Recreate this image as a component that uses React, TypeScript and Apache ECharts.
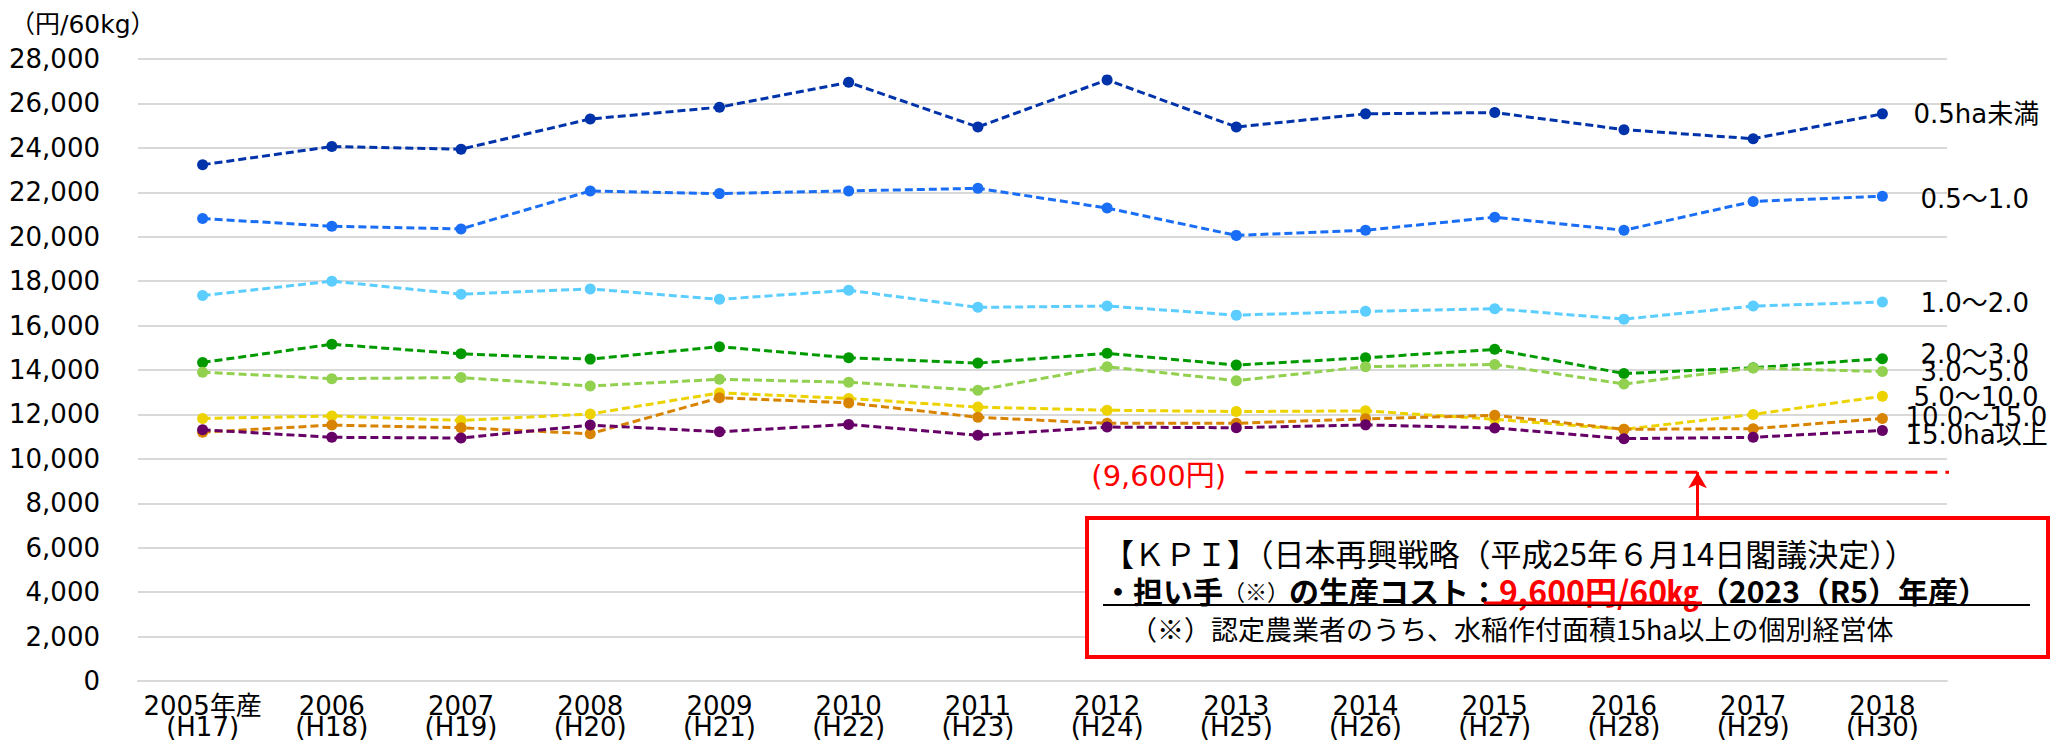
import React, { useEffect, useRef } from "react";
import * as echarts from "echarts";

const categories = [
  "2005年産\n(H17)", "2006\n(H18)", "2007\n(H19)", "2008\n(H20)", "2009\n(H21)",
  "2010\n(H22)", "2011\n(H23)", "2012\n(H24)", "2013\n(H25)", "2014\n(H26)",
  "2015\n(H27)", "2016\n(H28)", "2017\n(H29)", "2018\n(H30)",
];

const seriesNames = [
  "0.5ha未満", "0.5～1.0", "1.0～2.0", "2.0～3.0",
  "3.0～5.0", "5.0～10.0", "10.0～15.0", "15.0ha以上",
];

const under05 = [23240, 24060, 23940, 25300, 25830, 26950, 24940, 27060, 24940, 25530, 25590, 24820, 24410, 25530];
const from05to10 = [20820, 20470, 20350, 22060, 21940, 22060, 22180, 21290, 20060, 20290, 20880, 20290, 21590, 21820];
const from10to20 = [17350, 18000, 17410, 17650, 17180, 17590, 16820, 16880, 16470, 16640, 16760, 16290, 16880, 17060];
const from20to30 = [14340, 15160, 14730, 14490, 15050, 14550, 14310, 14750, 14220, 14550, 14930, 13840, 14100, 14510];
const from30to50 = [13900, 13610, 13660, 13280, 13580, 13450, 13090, 14150, 13520, 14150, 14250, 13370, 14090, 13930];
const from50to100 = [11820, 11930, 11730, 12020, 12970, 12720, 12330, 12190, 12130, 12160, 11780, 11330, 12000, 12820];
const from100to150 = [11200, 11520, 11400, 11130, 12750, 12520, 11870, 11600, 11600, 11800, 11960, 11330, 11360, 11820];
const over150 = [11310, 10970, 10940, 11520, 11220, 11550, 11060, 11430, 11400, 11530, 11390, 10910, 10970, 11280];

const seriesValues = [under05, from05to10, from10to20, from20to30, from30to50, from50to100, from100to150, over150];

// KPI target line (drawn position) and its labels
const kpiLineY = 9400;
const kpiLineX = [8.07, 13.55];
const kpiArrowX = 11.57;
const kpiArrowFromY = 7380;
const yTicks = { min: 0, max: 28000, interval: 2000 };

const colors = ["#0033aa", "#1a6ef5", "#5bcdff", "#009a00", "#92d050", "#ecd300", "#d88400", "#660066"];
const labelDistance = [31, 38, 38, 38, 38, 31, 23, 23];
const labelDy = [0, 3, 1, -5, 0, 1, -1, 5];

const FONT = "'DejaVu Sans', 'Noto Sans CJK JP', sans-serif";
const CJK = "'Noto Sans CJK JP', 'DejaVu Sans', sans-serif";

export default function App() {
  const ref = useRef<HTMLDivElement>(null);
  useEffect(() => {
    if (!ref.current) return;
    const chart = echarts.init(ref.current, undefined, { renderer: "svg" });
    const lineSeries = seriesNames.map((name, i) => ({
      name,
      type: "line",
      data: seriesValues[i],
      symbol: "circle",
      symbolSize: 11,
      z: 3 + i,
      itemStyle: { color: colors[i] },
      lineStyle: { color: colors[i], width: 3, type: [8, 4] },
      endLabel: {
        show: true,
        formatter: name,
        distance: labelDistance[i],
        offset: [0, labelDy[i]],
        color: "#000",
        fontSize: 26,
        fontFamily: FONT,
      },
    }));
    const option: any = {
      animation: false,
      grid: { left: 138, right: 104, top: 59, bottom: 60 },
      xAxis: [
        {
          type: "category",
          data: categories,
          boundaryGap: true,
          axisTick: { show: false },
          axisLine: { lineStyle: { color: "#d9d9d9", width: 2 } },
          axisLabel: { interval: 0, color: "#000", fontSize: 26, lineHeight: 21, margin: 14, fontFamily: FONT },
        },
        { type: "value", min: -0.5, max: 13.5, show: false },
      ],
      yAxis: {
        type: "value",
        min: yTicks.min,
        max: yTicks.max,
        interval: yTicks.interval,
        axisLine: { show: false },
        axisTick: { show: false },
        splitLine: { lineStyle: { color: "#d9d9d9", width: 2 } },
        axisLabel: {
          color: "#000",
          fontSize: 26,
          margin: 38,
          fontFamily: FONT,
          formatter: (v: number) => v.toLocaleString("en-US"),
        },
      },
      series: [
        ...lineSeries,
        {
          type: "line",
          xAxisIndex: 1,
          data: kpiLineX.map((x) => [x, kpiLineY]),
          symbol: "none",
          clip: false,
          silent: true,
          lineStyle: { color: "#ff0000", width: 3, type: [12, 8] },
          markLine: {
            silent: true,
            symbol: ["none", "arrow"],
            symbolSize: [14, 16],
            label: { show: false },
            lineStyle: { color: "#ff0000", width: 3, type: "solid" },
            data: [[{ coord: [kpiArrowX, kpiArrowFromY] }, { coord: [kpiArrowX, kpiLineY] }]],
          },
        },
      ],
      graphic: [
        {
          type: "text", x: 10, y: 24, z: 100,
          style: { text: "（円/60kg）", fill: "#000", fontSize: 25, fontFamily: FONT, verticalAlign: "middle", align: "left" },
        },
        {
          type: "text", x: 1226, y: 476, z: 100,
          style: { text: "(9,600円)", fill: "#ff0000", fontSize: 29, fontFamily: FONT, verticalAlign: "middle", align: "right" },
        },
        {
          type: "rect", z: 100,
          shape: { x: 1087, y: 518, width: 961, height: 139 },
          style: { fill: "#fff", stroke: "#ff0000", lineWidth: 4 },
        },
        {
          type: "text", x: 1103, y: 552, z: 101,
          style: {
            text: "【ＫＰＩ】（日本再興戦略（平成25年６月14日閣議決定））",
            fill: "#000", fontSize: 31, fontFamily: CJK, verticalAlign: "middle", align: "left",
          },
        },
        {
          type: "text", x: 1103, y: 590, z: 101,
          style: {
            text: "{b|・担い手}{s|（※）}{b|の生産コスト：}{r|9,600円/60㎏}{b|（2023（R5）年産）}",
            fill: "#000", fontSize: 30, fontFamily: CJK, verticalAlign: "middle", align: "left",
            rich: {
              b: { fontSize: 30, fontWeight: "bold", fontFamily: CJK, fill: "#000" },
              s: { fontSize: 22, fontFamily: CJK, fill: "#000" },
              r: { fontSize: 32, fontWeight: "bold", fontFamily: CJK, fill: "#ff0000" },
            },
          },
        },
        {
          type: "line", z: 101,
          shape: { x1: 1103, y1: 605, x2: 2030, y2: 605 },
          style: { stroke: "#000", lineWidth: 2 },
        },
        {
          type: "line", z: 102,
          shape: { x1: 1484, y1: 603, x2: 1702, y2: 603 },
          style: { stroke: "#ff0000", lineWidth: 3 },
        },
        {
          type: "text", x: 1130, y: 628, z: 101,
          style: {
            text: "（※）認定農業者のうち、水稲作付面積15ha以上の個別経営体",
            fill: "#000", fontSize: 27, fontFamily: CJK, verticalAlign: "middle", align: "left",
          },
        },
      ],
    };
    chart.setOption(option);
    return () => chart.dispose();
  }, []);
  return (
    <div
      ref={ref}
      style={{ position: "absolute", left: 0, top: 0, width: 2051, height: 741, background: "#fff" }}
    />
  );
}
